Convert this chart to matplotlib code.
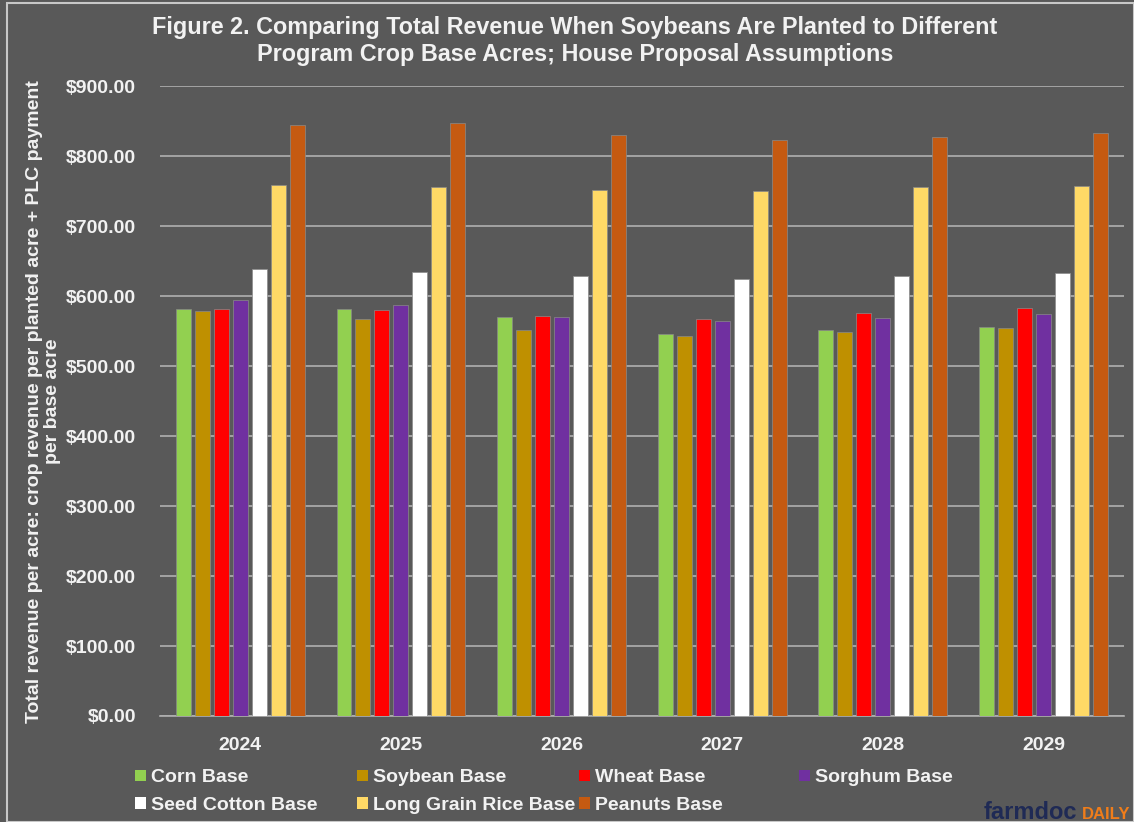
import matplotlib.pyplot as plt
import numpy as np
from matplotlib.patches import Patch

# Data
years = ["2024", "2025", "2026", "2027", "2028", "2029"]
series_names = ["Corn Base", "Soybean Base", "Wheat Base", "Sorghum Base",
                "Seed Cotton Base", "Long Grain Rice Base", "Peanuts Base"]
corn = [581, 581, 570, 546, 551, 556]
soybean = [579, 567, 552, 543, 549, 554]
wheat = [582, 580, 572, 568, 576, 583]
sorghum = [594, 587, 570, 564, 569, 574]
seed_cotton = [639, 634, 629, 624, 629, 633]
rice = [759, 756, 752, 750, 756, 758]
peanuts = [845, 847, 831, 823, 828, 833]

values = [corn, soybean, wheat, sorghum, seed_cotton, rice, peanuts]
colors = ["#92d050", "#bf9000", "#ff0000", "#7030a0", "#ffffff", "#ffd966", "#c55a11"]

BG = "#595959"
TXT = "#f2f2f2"
plt.rcParams['font.family'] = ['Liberation Sans', 'DejaVu Sans']

fig = plt.figure(figsize=(11.34, 8.22), dpi=100, facecolor=BG)
ax = fig.add_axes([0.141, 0.129, 0.850, 0.766], facecolor=BG)

x = np.arange(len(years))
pitch = 0.118
width = 0.093
for i, (vals, c) in enumerate(zip(values, colors)):
    ax.bar(x + (i - 3) * pitch, vals, width, color=c, edgecolor="#8a8a8a",
           linewidth=0.5, zorder=3, label=series_names[i])

ax.set_xlim(-0.5, len(years) - 0.5)
ax.set_ylim(0, 900)
ax.set_yticks(np.arange(0, 901, 100))
ax.set_yticklabels([f"${v:,.2f}" for v in range(0, 901, 100)])
ax.set_xticks(x)
ax.set_xticklabels(years)
ax.grid(axis="y", color="#b0b0b0", linewidth=1.2, zorder=0)
for s in ["top", "right", "left"]:
    ax.spines[s].set_visible(False)
ax.spines["bottom"].set_color("#b0b0b0")
ax.spines["bottom"].set_linewidth(1.2)
ax.tick_params(axis="both", length=0, colors=TXT, labelsize=14)
ax.tick_params(axis="y", pad=17)
ax.tick_params(axis="x", pad=15)
for lab in ax.get_xticklabels() + ax.get_yticklabels():
    lab.set_fontweight("bold")

ax.set_ylabel("Total revenue per acre: crop revenue per planted acre + PLC payment\nper base acre",
              color=TXT, fontsize=14, fontweight="bold", labelpad=4, linespacing=1.05)

fig.text(0.507, 0.950, "Figure 2. Comparing Total Revenue When Soybeans Are Planted to Different\n"
         "Program Crop Base Acres; House Proposal Assumptions",
         ha="center", va="center", color=TXT, fontsize=16.8, fontweight="bold", linespacing=1.2)

# Legend: four columns, equally spaced, filled row by row
col_x = [0.119, 0.315, 0.511, 0.705]
for c in range(4):
    idx = [i for i in (c, c + 4) if i < len(series_names)]
    handles = [Patch(facecolor=colors[i], edgecolor="none") for i in idx]
    fig.legend(handles, [series_names[i] for i in idx], loc="upper left",
               bbox_to_anchor=(col_x[c], 0.064), frameon=False,
               handlelength=0.55, handleheight=0.55, handletextpad=0.25,
               labelspacing=0.55, borderpad=0, borderaxespad=0,
               labelcolor=TXT, prop={"weight": "bold", "size": 14})

# farmdoc daily logo
fig.text(0.950, 0.004, "farmdoc", color="#1f2a55", fontsize=17, fontweight="bold",
         ha="right", va="baseline")
fig.text(0.997, 0.004, "DAILY", color="#f07d1a", fontsize=12, fontweight="bold",
         ha="right", va="baseline")

# thin frame around the figure
fig.patches.append(plt.Rectangle((0.006, 0.0), 0.994, 0.996, transform=fig.transFigure,
                                 fill=False, edgecolor="#c8c8c8", linewidth=1.5))

fig.savefig("out.png", dpi=100, facecolor=BG)
